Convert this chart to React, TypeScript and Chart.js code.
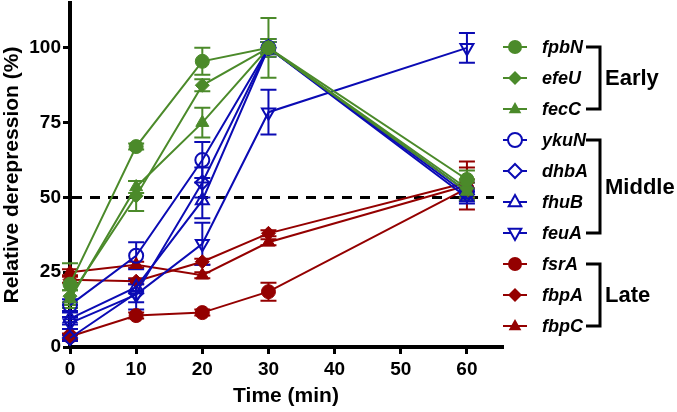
import React, { useEffect, useRef } from 'react';
import { Chart, registerables } from 'chart.js';
Chart.register(...registerables);

const times = [0, 10, 20, 30, 60];
const xTickValues = [0, 10, 20, 30, 40, 50, 60];
const yTickValues = [0, 25, 50, 75, 100];
const thresholdValue = 50;

// Early genes
const fpbN = [21, 67, 95.5, 100, 56];
const fpbNErr = [7, 1, 4.5, 10, 3];
const efeU = [17, 50.5, 87.5, 100, 53];
const efeUErr = [2, 5, 2, 3, 3];
const fecC = [16, 53.5, 75, 100, 52];
const fecCErr = [3, 2, 5, 2, 3];
// Middle genes
const ykuN = [14, 30.5, 62.5, 100, 52];
const ykuNErr = [2, 4.5, 6, 3, 3];
const dhbA = [3, 18, 55, 100, 51];
const dhbAErr = [1, 3, 5, 2, 2];
const fhuB = [9.5, 20, 49, 100, 50];
const fhuBErr = [2, 2, 6, 2, 2];
const feuA = [8, 17.5, 34.5, 78.5, 100];
const feuAErr = [2, 5, 7, 7.5, 5];
// Late genes
const fsrA = [3.5, 10.5, 11.5, 18.5, 53];
const fsrAErr = [1, 1, 1, 3, 3];
const fbpA = [22.5, 22, 28.5, 38, 55];
const fbpAErr = [1, 1, 1, 1, 5];
const fbpC = [25, 27.5, 24, 35, 54];
const fbpCErr = [1, 1, 1, 1, 8];

const geneNames = ['fpbN', 'efeU', 'fecC', 'ykuN', 'dhbA', 'fhuB', 'feuA', 'fsrA', 'fbpA', 'fbpC'];
const groupLabels = ['Early', 'Middle', 'Late'];

const GREEN = '#4b8a2a';
const BLUE = '#0b0bb4';
const RED = '#940000';
const FONT = "'Liberation Sans', Arial, sans-serif";

type Style = { color: string; shape: 'circle' | 'diamond' | 'triangle' | 'triangleDown'; filled: boolean };

const seriesValues = [fpbN, efeU, fecC, ykuN, dhbA, fhuB, feuA, fsrA, fbpA, fbpC];
const seriesErrors = [fpbNErr, efeUErr, fecCErr, ykuNErr, dhbAErr, fhuBErr, feuAErr, fsrAErr, fbpAErr, fbpCErr];
const seriesStyles: Style[] = [
  { color: GREEN, shape: 'circle', filled: true },
  { color: GREEN, shape: 'diamond', filled: true },
  { color: GREEN, shape: 'triangle', filled: true },
  { color: BLUE, shape: 'circle', filled: false },
  { color: BLUE, shape: 'diamond', filled: false },
  { color: BLUE, shape: 'triangle', filled: false },
  { color: BLUE, shape: 'triangleDown', filled: false },
  { color: RED, shape: 'circle', filled: true },
  { color: RED, shape: 'diamond', filled: true },
  { color: RED, shape: 'triangle', filled: true },
];
const groupRanges = [[0, 2], [3, 6], [7, 9]];

function drawMarker(ctx: CanvasRenderingContext2D, s: Style, x: number, y: number, r: number) {
  ctx.save();
  ctx.beginPath();
  if (s.shape === 'circle') {
    ctx.arc(x, y, r, 0, Math.PI * 2);
  } else if (s.shape === 'diamond') {
    ctx.moveTo(x, y - r);
    ctx.lineTo(x + r, y);
    ctx.lineTo(x, y + r);
    ctx.lineTo(x - r, y);
    ctx.closePath();
  } else if (s.shape === 'triangle') {
    ctx.moveTo(x, y - r);
    ctx.lineTo(x + r * 0.9, y + r * 0.6);
    ctx.lineTo(x - r * 0.9, y + r * 0.6);
    ctx.closePath();
  } else {
    ctx.moveTo(x, y + r);
    ctx.lineTo(x + r * 0.9, y - r * 0.6);
    ctx.lineTo(x - r * 0.9, y - r * 0.6);
    ctx.closePath();
  }
  if (s.filled) {
    ctx.fillStyle = s.color;
    ctx.fill();
  } else {
    ctx.fillStyle = '#fff';
    ctx.fill();
    ctx.lineWidth = 2;
    ctx.strokeStyle = s.color;
    ctx.stroke();
  }
  ctx.restore();
}

const errorBarPlugin = {
  id: 'errorBars',
  beforeDatasetsDraw(chart: any) {
    const ctx = chart.ctx;
    const yScale = chart.scales.y;
    for (let d = chart.data.datasets.length - 1; d >= 0; d--) {
      const meta = chart.getDatasetMeta(d);
      const errs = seriesErrors[d];
      const vals = seriesValues[d];
      ctx.save();
      ctx.strokeStyle = seriesStyles[d].color;
      ctx.lineWidth = 2;
      meta.data.forEach((pt: any, i: number) => {
        const e = errs[i];
        if (!e) return;
        const x = pt.x;
        const yTop = yScale.getPixelForValue(vals[i] + e);
        const yBot = yScale.getPixelForValue(vals[i] - e);
        ctx.beginPath();
        ctx.moveTo(x, yTop);
        ctx.lineTo(x, yBot);
        ctx.moveTo(x - 8, yTop);
        ctx.lineTo(x + 8, yTop);
        ctx.moveTo(x - 8, yBot);
        ctx.lineTo(x + 8, yBot);
        ctx.stroke();
      });
      ctx.restore();
    }
  },
};

const thresholdPlugin = {
  id: 'threshold',
  beforeDatasetsDraw(chart: any) {
    const ctx = chart.ctx;
    const { left, right } = chart.chartArea;
    const y = chart.scales.y.getPixelForValue(thresholdValue);
    ctx.save();
    ctx.strokeStyle = '#000';
    ctx.lineWidth = 3;
    ctx.setLineDash([10, 8]);
    ctx.beginPath();
    ctx.moveTo(left + 2, y);
    ctx.lineTo(right - 8, y);
    ctx.stroke();
    ctx.restore();
  },
};

const legendPlugin = {
  id: 'customLegend',
  afterDraw(chart: any) {
    const ctx = chart.ctx;
    const markerX = 515;
    const textX = 542;
    const y0 = 47;
    const dy = 31;
    ctx.save();
    geneNames.forEach((name, i) => {
      const y = y0 + i * dy;
      const s = seriesStyles[i];
      ctx.strokeStyle = s.color;
      ctx.lineWidth = 2;
      ctx.beginPath();
      ctx.moveTo(markerX - 12, y);
      ctx.lineTo(markerX + 12, y);
      ctx.stroke();
      drawMarker(ctx, s, markerX, y, 7);
      ctx.fillStyle = '#000';
      ctx.font = `italic bold 18px ${FONT}`;
      ctx.textBaseline = 'middle';
      ctx.textAlign = 'left';
      ctx.fillText(name, textX, y + 1);
    });
    const bx = 600;
    groupRanges.forEach(([a, b], g) => {
      const ya = y0 + a * dy;
      const yb = y0 + b * dy;
      ctx.strokeStyle = '#000';
      ctx.lineWidth = 3;
      ctx.beginPath();
      ctx.moveTo(586, ya);
      ctx.lineTo(bx, ya);
      ctx.lineTo(bx, yb);
      ctx.lineTo(586, yb);
      ctx.stroke();
      ctx.fillStyle = '#000';
      ctx.font = `bold 22px ${FONT}`;
      ctx.textBaseline = 'middle';
      ctx.textAlign = 'left';
      ctx.fillText(groupLabels[g], bx + 5, (ya + yb) / 2 + 1);
    });
    ctx.restore();
  },
};

const noPadding = () => ({ top: 0, bottom: 0, left: 0, right: 0 });

export default function App() {
  const canvasRef = useRef<HTMLCanvasElement | null>(null);

  useEffect(() => {
    if (!canvasRef.current) return;
    const datasets = geneNames.map((name, i) => {
      const s = seriesStyles[i];
      const pointStyle = s.shape === 'circle' ? 'circle' : s.shape === 'diamond' ? 'rectRot' : 'triangle';
      return {
        label: name,
        data: times.map((t, j) => ({ x: t, y: seriesValues[i][j] })),
        borderColor: s.color,
        backgroundColor: s.filled ? s.color : 'rgba(255,255,255,0)',
        pointBackgroundColor: s.filled ? s.color : 'rgba(255,255,255,0)',
        pointBorderColor: s.color,
        pointBorderWidth: s.filled ? 1 : 2,
        borderWidth: 2,
        pointRadius: s.shape === 'triangle' || s.shape === 'triangleDown' ? 7.5 : 7,
        pointStyle,
        pointRotation: s.shape === 'triangleDown' ? 180 : 0,
        tension: 0,
        fill: false,
        clip: false,
      };
    });

    const chart = new Chart(canvasRef.current, {
      type: 'line',
      data: { datasets: datasets as any },
      options: {
        animation: false,
        responsive: false,
        layout: { autoPadding: false, padding: { top: 3, right: 175, left: 0, bottom: 0 } },
        plugins: { legend: { display: false }, tooltip: { enabled: false } },
        scales: {
          x: {
            type: 'linear',
            min: 0,
            max: 65.3,
            afterFit: (s: any) => { s.height = 65; s.paddingLeft = 0; s.paddingRight = 0; s.getPadding = noPadding; },
            afterBuildTicks: (s: any) => { s.ticks = xTickValues.map((v) => ({ value: v })); },
            grid: { drawOnChartArea: false, drawTicks: true, tickLength: 7, lineWidth: 3, color: '#000' },
            border: { display: true, width: 4, color: '#000' },
            ticks: { color: '#000', font: { family: FONT, size: 19, weight: 'bold' }, padding: 4, maxRotation: 0 },
            title: { display: true, text: 'Time (min)', color: '#000', font: { family: FONT, size: 21, weight: 'bold' }, padding: { top: 0, bottom: 3 } },
          },
          y: {
            type: 'linear',
            min: 0,
            max: 115,
            afterFit: (s: any) => { s.width = 70; s.paddingTop = 0; s.paddingBottom = 0; s.getPadding = noPadding; },
            afterBuildTicks: (s: any) => { s.ticks = yTickValues.map((v) => ({ value: v })); },
            grid: { drawOnChartArea: false, drawTicks: true, tickLength: 7, lineWidth: 3, color: '#000' },
            border: { display: true, width: 4, color: '#000' },
            ticks: { color: '#000', font: { family: FONT, size: 19, weight: 'bold' }, padding: 2 },
            title: { display: true, text: 'Relative derepression (%)', color: '#000', font: { family: FONT, size: 21, weight: 'bold' }, padding: { top: 0, bottom: 0 } },
          },
        },
      } as any,
      plugins: [thresholdPlugin, errorBarPlugin, legendPlugin],
    });
    return () => chart.destroy();
  }, []);

  return (
    <div style={{ position: 'fixed', left: 0, top: 0, width: 677, height: 412, background: '#fff' }}>
      <canvas ref={canvasRef} width={677} height={412} style={{ width: 677, height: 412, display: 'block' }} />
    </div>
  );
}
